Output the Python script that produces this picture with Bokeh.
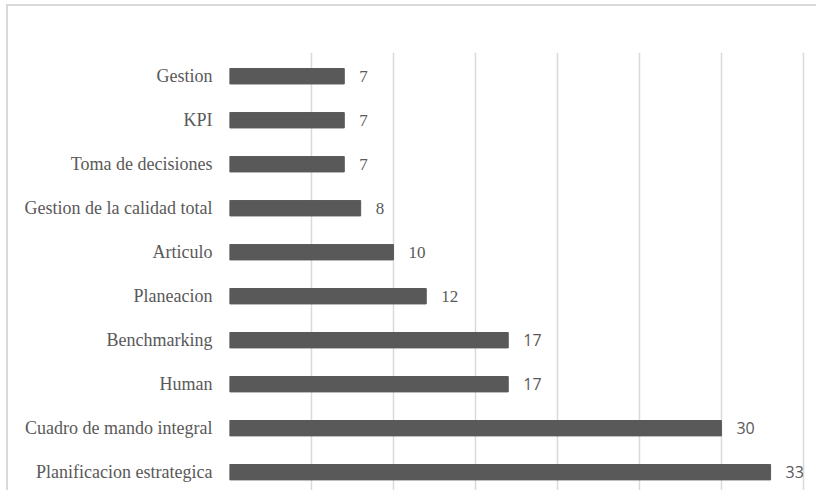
from bokeh.plotting import figure
from bokeh.models import ColumnDataSource, FixedTicker, Grid, Range1d, CDSView, IndexFilter
from bokeh.core.properties import value
from bokeh.embed import file_html
from bokeh.resources import INLINE

# Data (bottom to top)
categories = ["Planificacion estrategica", "Cuadro de mando integral", "Human",
              "Benchmarking", "Planeacion", "Articulo", "Gestion de la calidad total",
              "Toma de decisiones", "KPI", "Gestion"]
counts = [33, 30, 17, 17, 12, 10, 8, 7, 7, 7]
x_ticks = [0, 5, 10, 15, 20, 25, 30, 35]

ypos = list(range(len(categories)))
src = ColumnDataSource(dict(y=ypos, v=counts, lab=[str(c) for c in counts]))

# the reference draws the lower four value labels in a sans face, the rest in serif
sans_idx = [0, 1, 2, 3]
serif_idx = [4, 5, 6, 7, 8, 9]

p = figure(width=816, height=490, output_backend="svg", toolbar_location=None,
           x_range=Range1d(0, 35.8), y_range=Range1d(-0.416, 9.54),
           x_axis_location=None, min_border_left=229, min_border_top=52,
           min_border_bottom=0, min_border_right=0)
p.outline_line_color = None
p.background_fill_color = "white"
p.border_fill_color = None
p.styles = {
    "background-color": "white",
    "background-image": "linear-gradient(#d9d9d9, #d9d9d9), linear-gradient(#d9d9d9, #d9d9d9)",
    "background-size": "100% 2px, 2px 100%",
    "background-position": "6px 4px, 6px 4px",
    "background-repeat": "no-repeat",
}
p.ygrid.visible = False
p.xgrid.visible = False

grid = Grid(dimension=0, ticker=FixedTicker(ticks=x_ticks),
            grid_line_color="#d9d9d9", grid_line_width=1.5)
p.add_layout(grid)

p.hbar(y="y", right="v", left=0, height=0.35, source=src,
       fill_color="#595959", line_color="#595959")

p.text(x="v", y="y", text="lab", source=src, view=CDSView(filter=IndexFilter(sans_idx)),
       x_offset=15, text_align="left", text_baseline="middle",
       text_font=value("Open Sans"), text_font_size="16px", text_color="#595959")
p.text(x="v", y="y", text="lab", source=src, view=CDSView(filter=IndexFilter(serif_idx)),
       x_offset=15, text_align="left", text_baseline="middle",
       text_font=value("Liberation Serif"), text_font_size="17px", text_color="#595959")

yax = p.yaxis[0]
yax.ticker = FixedTicker(ticks=ypos)
yax.major_label_overrides = {i: c for i, c in zip(ypos, categories)}
yax.axis_line_color = None
yax.major_tick_line_color = None
yax.minor_tick_line_color = None
yax.major_tick_in = 0
yax.major_tick_out = 0
yax.major_label_standoff = 17
yax.major_label_text_font = "Liberation Serif"
yax.major_label_text_font_size = "18px"
yax.major_label_text_color = "#595959"

open("out.html", "w").write(file_html(p, INLINE))
